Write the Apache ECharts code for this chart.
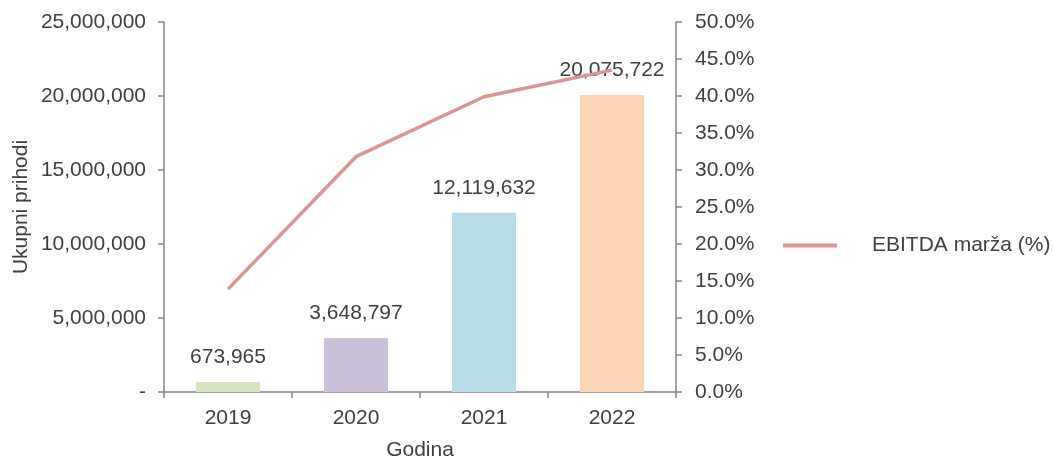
<!DOCTYPE html>
<html>
<head>
<meta charset="utf-8">
<script src="https://cdn.jsdelivr.net/npm/echarts@6/dist/echarts.min.js"></script>
<style>html,body{margin:0;padding:0;background:#fff}#c{width:1054px;height:459px}</style>
</head>
<body>
<div id="c"></div>
<script>
const categories = ['2019', '2020', '2021', '2022'];
const revenue = [673965, 3648797, 12119632, 20075722];
const ebitdaMargin = [13.9, 31.8, 39.9, 43.5];
const barColors = ['#d7e4bd', '#ccc1da', '#b7dde8', '#fcd5b5'];
const leftTicks = { min: 0, max: 25000000, interval: 5000000 };
const rightTicks = { min: 0, max: 50, interval: 5 };

const txt = '#404040';
const axisGray = '#868686';
const font = 'Liberation Sans, Arial, sans-serif';
const fs = 21;

const chart = echarts.init(document.getElementById('c'));
chart.setOption({
  animation: false,
  textStyle: { fontFamily: font },
  grid: { left: 164, right: 378, top: 22, bottom: 67, outerBoundsMode: 'none', containLabel: false },
  legend: {
    data: [{ name: 'EBITDA marža (%)' }],
    left: 778, top: 230,
    itemWidth: 54, itemHeight: 4,
    icon: 'rect',
    textStyle: { color: txt, fontSize: fs, fontFamily: font, padding: [0, 0, 0, 30] }
  },
  xAxis: {
    type: 'category',
    data: categories,
    name: 'Godina',
    nameLocation: 'middle',
    nameGap: 48,
    nameTextStyle: { color: txt, fontSize: fs, fontFamily: font },
    axisLine: { lineStyle: { color: axisGray, width: 1.5 } },
    axisTick: { show: true, length: 6, lineStyle: { color: axisGray, width: 1.5 } },
    axisLabel: { color: txt, fontSize: fs, fontFamily: font, margin: 16 }
  },
  yAxis: [
    {
      type: 'value',
      min: leftTicks.min, max: leftTicks.max, interval: leftTicks.interval,
      name: 'Ukupni prihodi',
      nameLocation: 'middle',
      nameGap: 132,
      nameTextStyle: { color: txt, fontSize: fs, fontFamily: font },
      axisLine: { show: true, lineStyle: { color: axisGray, width: 1.5 } },
      axisTick: { show: true, length: 6, lineStyle: { color: axisGray, width: 1.5 } },
      splitLine: { show: false },
      axisLabel: {
        color: txt, fontSize: fs, fontFamily: font, margin: 18,
        formatter: v => v === 0 ? '-' : v.toLocaleString('en-US')
      }
    },
    {
      type: 'value',
      position: 'right',
      min: rightTicks.min, max: rightTicks.max, interval: rightTicks.interval,
      axisLine: { show: true, lineStyle: { color: axisGray, width: 1.5 } },
      axisTick: { show: true, length: 6, lineStyle: { color: axisGray, width: 1.5 } },
      splitLine: { show: false },
      axisLabel: {
        color: txt, fontSize: fs, fontFamily: font, margin: 19,
        formatter: v => v.toFixed(1) + '%'
      }
    }
  ],
  series: [
    {
      name: 'Ukupni prihodi',
      type: 'bar',
      barWidth: '50%',
      data: revenue.map((v, i) => ({ value: v, itemStyle: { color: barColors[i] } })),
      label: {
        show: true, position: 'top', distance: 14,
        color: txt, fontSize: fs, fontFamily: font,
        formatter: p => p.value.toLocaleString('en-US')
      },
      z: 1
    },
    {
      name: 'EBITDA marža (%)',
      type: 'line',
      yAxisIndex: 1,
      data: ebitdaMargin,
      showSymbol: false,
      symbol: 'none',
      itemStyle: { color: '#d99694' },
      lineStyle: { color: '#d99694', width: 3.5 },
      z: 2
    }
  ]
});
</script>
</body>
</html>
